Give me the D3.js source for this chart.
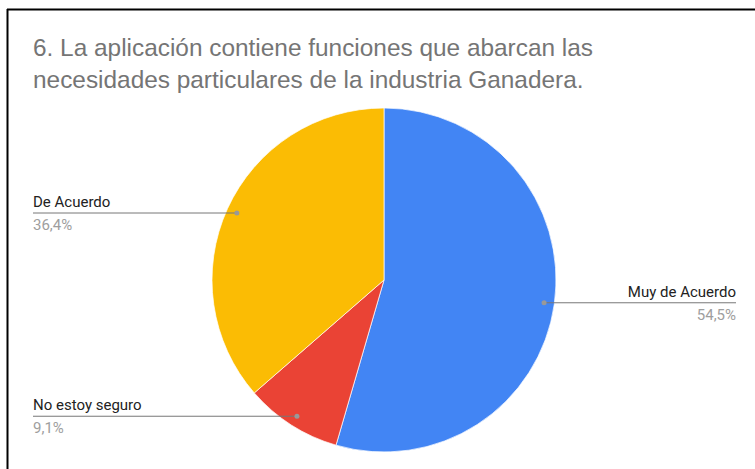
<!DOCTYPE html>
<html>
<head>
<meta charset="utf-8">
<script src="https://cdn.jsdelivr.net/npm/d3@7"></script>
<style>
  body { margin: 0; background: #fff; }
  svg { display: block; }
</style>
</head>
<body>
<div id="chart"></div>
<script>
// chart data
var categories = ["Muy de Acuerdo", "No estoy seguro", "De Acuerdo"];
var values = [54.5, 9.1, 36.4];
var pctLabels = ["54,5%", "9,1%", "36,4%"];
var colors = ["#4285f4", "#ea4335", "#fbbc04"];
var titleLines = ["6. La aplicación contiene funciones que abarcan las",
                  "necesidades particulares de la industria Ganadera."];

var width = 755, height = 469;
var cx = 384, cy = 280, radius = 172;

var svg = d3.select("#chart")
  .append("svg")
    .attr("width", width)
    .attr("height", height);

// frame of the screenshot
svg.append("line")
  .attr("x1", 7).attr("x2", width)
  .attr("y1", 9.5).attr("y2", 9.5)
  .attr("stroke", "#000").attr("stroke-width", 2);
svg.append("line")
  .attr("x1", 7.5).attr("x2", 7.5)
  .attr("y1", 9).attr("y2", height)
  .attr("stroke", "#000").attr("stroke-width", 2);

// title
svg.append("g")
  .selectAll("text")
  .data(titleLines)
  .enter()
  .append("text")
    .attr("x", 33)
    .attr("y", function(d, i) { return 56 + i * 32; })
    .style("font-family", "'Liberation Sans', Arial, sans-serif")
    .style("font-size", "24.4px")
    .style("fill", "#757575")
    .text(function(d) { return d; });

var pie = d3.pie().sort(null).value(function(d) { return d; });
var arcs = pie(values);

var arc = d3.arc().innerRadius(0).outerRadius(radius);
var dotArc = d3.arc().innerRadius(radius * 0.94).outerRadius(radius * 0.94);

var g = svg.append("g")
  .attr("transform", "translate(" + cx + "," + cy + ")");

g.selectAll("path")
  .data(arcs)
  .enter()
  .append("path")
    .attr("d", arc)
    .style("fill", function(d, i) { return colors[i]; })
    .style("stroke", "#fff")
    .style("stroke-width", 0.7);

// leader lines and labels
var leftX = 33, rightX = 736;

arcs.forEach(function(d, i) {
  var p = dotArc.centroid(d);
  var px = cx + p[0], py = cy + p[1];
  var right = px > cx;
  var endX = right ? rightX : leftX;

  svg.append("line")
    .attr("x1", px).attr("y1", py)
    .attr("x2", endX).attr("y2", py)
    .attr("stroke", "#777")
    .attr("stroke-width", 1);

  svg.append("circle")
    .attr("cx", px).attr("cy", py)
    .attr("r", 2.5)
    .style("fill", "#999");

  svg.append("text")
    .attr("x", endX)
    .attr("y", py - 6)
    .attr("text-anchor", right ? "end" : "start")
    .style("font-family", "Roboto, Arial, sans-serif")
    .style("font-size", "15px")
    .style("fill", "#222")
    .text(categories[i]);

  svg.append("text")
    .attr("x", endX)
    .attr("y", py + 17)
    .attr("text-anchor", right ? "end" : "start")
    .style("font-family", "Roboto, Arial, sans-serif")
    .style("font-size", "15px")
    .style("fill", "#9e9e9e")
    .text(pctLabels[i]);
});
</script>
</body>
</html>
